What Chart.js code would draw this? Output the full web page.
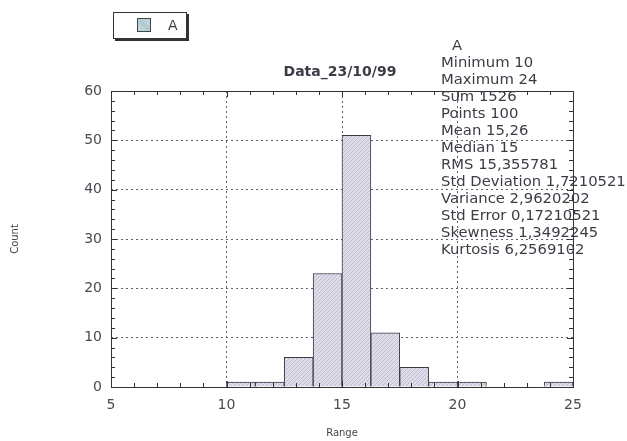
<!DOCTYPE html>
<html>
<head>
<meta charset="utf-8">
<script src="https://cdn.jsdelivr.net/npm/chart.js@4.4.0/dist/chart.umd.min.js"></script>
<style>
  body { margin: 0; background: #fff; }
  #wrap { position: relative; width: 627px; height: 441px; font-family: "DejaVu Sans", sans-serif; color: #3c3c46; }
  #graph { position: absolute; left: 0; top: 0; }
  #legend-box { position: absolute; left: 113px; top: 12px; width: 72px; height: 25px; border: 1px solid #333; box-shadow: 2px 2px 0 #333; background: #fff; }
  #legend-swatch { position: absolute; left: 23px; top: 5px; width: 12px; height: 12px; border: 1px solid #444; background: repeating-linear-gradient(45deg, #c4dce2 0 1px, #a9c4cc 1px 2px); }
  #legend-label { position: absolute; left: 54px; top: 4px; font-size: 14px; }
  #graph-heading { position: absolute; left: 240px; top: 63px; width: 200px; text-align: center; font-weight: bold; font-size: 14px; }
  #stats { position: absolute; left: 441px; top: 36px; font-size: 14.8px; line-height: 17px; white-space: nowrap; }
  #stats .head { padding-left: 11px; }
</style>
</head>
<body>
<div id="wrap">
  <canvas id="graph" width="627" height="441"></canvas>
  <div id="legend-box"><div id="legend-swatch"></div><div id="legend-label">A</div></div>
  <div id="graph-heading">Data_23/10/99</div>
  <div id="stats"></div>
</div>
<script>
// histogram bins (start of each bin, width 1.25) and counts
const binStarts = [10, 11.25, 12.5, 13.75, 15, 16.25, 17.5, 18.75, 20, 21.25, 22.5, 23.75];
const binWidth = 1.25;
const counts = [1, 1, 6, 23, 51, 11, 4, 1, 1, 0, 0, 1];

const xTicks = [5, 10, 15, 20, 25];
const yTicks = [0, 10, 20, 30, 40, 50, 60];

const seriesName = 'A';
const statLines = [
  'Minimum 10',
  'Maximum 24',
  'Sum 1526',
  'Points 100',
  'Mean 15,26',
  'Median 15',
  'RMS 15,355781',
  'Std Deviation 1,7210521',
  'Variance 2,9620202',
  'Std Error 0,17210521',
  'Skewness 1,3492245',
  'Kurtosis 6,2569102'
];

// stats block on the right
const statsDiv = document.getElementById('stats');
let html = '<div class="head">' + seriesName + '</div>';
for (let i = 0; i < statLines.length; i++) {
  html += '<div>' + statLines[i] + '</div>';
}
statsDiv.innerHTML = html;

// fine hatch fill for the bars
function makeHatch() {
  const c = document.createElement('canvas');
  c.width = 4; c.height = 4;
  const g = c.getContext('2d');
  g.fillStyle = '#dedce9';
  g.fillRect(0, 0, 4, 4);
  g.fillStyle = '#c0bed0';
  for (let i = 0; i < 4; i++) g.fillRect(i, 3 - i, 1, 1);
  return g.createPattern(c, 'repeat');
}

let points = [];
for (let i = 0; i < binStarts.length; i++) {
  points.push({ x: binStarts[i] + binWidth / 2, y: counts[i] });
}

// frame around the plot plus the small inner tick marks
const frameTicks = {
  id: 'frameTicks',
  afterDatasetsDraw(chart) {
    const { ctx, chartArea: a, scales: { x, y } } = chart;
    ctx.save();
    ctx.strokeStyle = '#333';
    ctx.lineWidth = 1;
    ctx.beginPath();
    for (let v = yTicks[0]; v <= yTicks[yTicks.length - 1]; v += 2) {
      const p = Math.round(y.getPixelForValue(v)) + 0.5;
      const len = v % 10 === 0 ? 6 : 4;
      ctx.moveTo(a.left, p); ctx.lineTo(a.left + len, p);
      ctx.moveTo(a.right, p); ctx.lineTo(a.right - len, p);
    }
    for (let v = xTicks[0]; v <= xTicks[xTicks.length - 1]; v += 1) {
      const p = Math.round(x.getPixelForValue(v)) + 0.5;
      const len = v % 5 === 0 ? 6 : 4;
      ctx.moveTo(p, a.bottom); ctx.lineTo(p, a.bottom - len);
      ctx.moveTo(p, a.top); ctx.lineTo(p, a.top + len);
    }
    ctx.stroke();
    ctx.strokeRect(Math.round(a.left) + 0.5, Math.round(a.top) + 0.5, Math.round(a.right - a.left), Math.round(a.bottom - a.top));
    ctx.restore();
  }
};

const ctx = document.getElementById('graph').getContext('2d');
const tickFont = { family: 'DejaVu Sans', size: 14 };

new Chart(ctx, {
  type: 'bar',
  data: {
    datasets: [{
      label: seriesName,
      data: points,
      backgroundColor: makeHatch(),
      borderColor: '#3a3a44',
      borderWidth: 1,
      barPercentage: 1,
      categoryPercentage: 1
    }]
  },
  options: {
    responsive: false,
    animation: false,
    layout: { padding: { left: 0, top: 91, right: 54, bottom: 0 } },
    plugins: { legend: { display: false }, tooltip: { enabled: false }, title: { display: false } },
    scales: {
      x: {
        type: 'linear',
        offset: false,
        min: xTicks[0],
        max: xTicks[xTicks.length - 1],
        afterBuildTicks: (s) => { s.ticks = xTicks.map(v => ({ value: v })); },
        afterFit: (s) => { s.height = 54; },
        grid: {
          offset: false,
          drawTicks: false,
          color: (c) => (c.tick && (c.tick.value === 5 || c.tick.value === 25)) ? 'rgba(0,0,0,0)' : '#60606a'
        },
        border: { display: false, dash: [2, 3] },
        ticks: { font: tickFont, color: '#4a4a52', padding: 10, maxRotation: 0 },
        title: { display: true, text: 'Range', font: { family: 'DejaVu Sans', size: 10 }, color: '#44444c', padding: { top: 0, bottom: 2 } }
      },
      y: {
        min: yTicks[0],
        max: yTicks[yTicks.length - 1],
        afterBuildTicks: (s) => { s.ticks = yTicks.map(v => ({ value: v })); },
        afterFit: (s) => { s.width = 111; },
        grid: {
          drawTicks: false,
          color: (c) => (c.tick && (c.tick.value === 0 || c.tick.value === 60)) ? 'rgba(0,0,0,0)' : '#60606a'
        },
        border: { display: false, dash: [2, 3] },
        ticks: { font: tickFont, color: '#4a4a52', padding: 9 },
        title: { display: true, text: 'Count', font: { family: 'DejaVu Sans', size: 10 }, color: '#44444c', padding: { top: 9, bottom: 0 } }
      }
    }
  },
  plugins: [frameTicks]
});
</script>
</body>
</html>
